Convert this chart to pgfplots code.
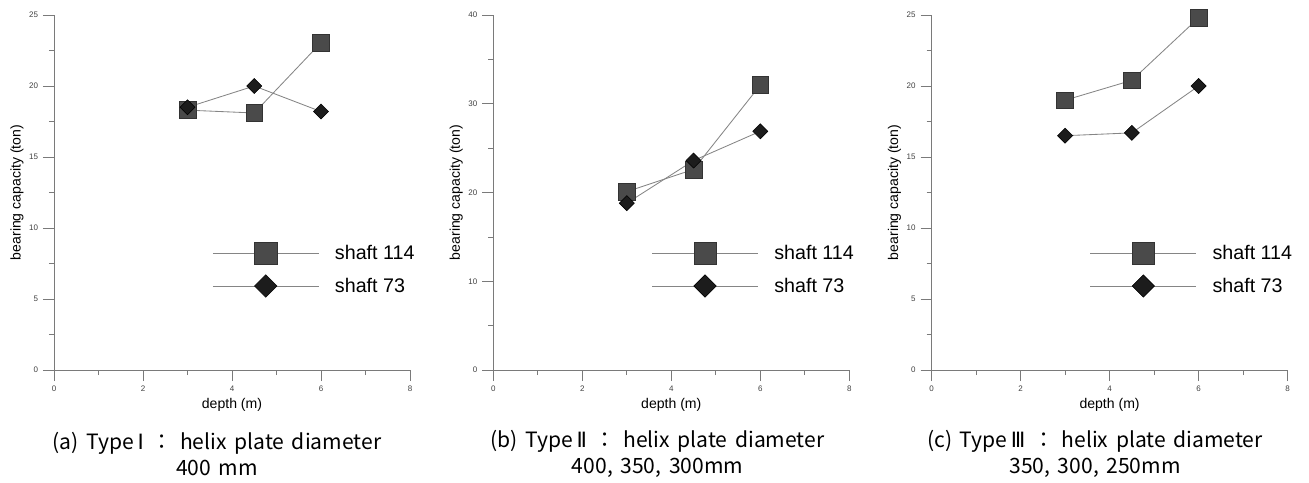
\documentclass[border=0pt]{standalone}
\usepackage{fontspec}
\setmainfont{Liberation Sans}
\newfontfamily\kr{Noto Sans CJK KR}
\newfontfamily\dv{DejaVu Sans}
\usepackage{pgfplots}
\pgfplotsset{compat=1.18}

\definecolor{axisgray}{HTML}{7A7A7A}
\definecolor{linegray}{HTML}{858585}
\definecolor{sqfill}{HTML}{4A4A4A}
\definecolor{dmfill}{HTML}{1C1C1C}

\newcommand\capfont{\kr\fontsize{15}{18.5}\selectfont\spaceskip=0.36em\relax}

\pgfplotsset{
  panel/.style={
    scale only axis, width=89mm, height=88.75mm,
    xmin=0, xmax=8, ymin=0,
    axis x line*=bottom, axis y line*=left,
    axis line style={axisgray, line width=0.5pt},
    xtick={0,2,...,8}, minor x tick num=1, minor y tick num=1,
    tick align=outside,
    major tick length=2.75mm, minor tick length=1.25mm,
    every tick/.style={axisgray, line width=0.5pt},
    tick label style={font=\fontsize{5.7}{6}\selectfont, text=black!75},
    /pgf/number format/assume math mode=true,
    xlabel={depth (m)}, ylabel={bearing capacity (ton)},
    label style={font=\fontsize{10}{12}\selectfont},
    xlabel style={at={(axis description cs:0.5,-0.0986)}, anchor=center},
    ylabel style={at={(axis description cs:-0.104,0.5)}, anchor=center},
    clip=false,
    legend style={at={(rel axis cs:0.444,0.283)}, anchor=west, draw=none, fill=none,
      inner sep=0pt, font=\fontsize{14}{17}\selectfont, row sep=2.65mm, column sep=3.25mm,
      cells={inner ysep=0pt, inner xsep=0pt}},
    legend cell align=left,
    legend image code/.code={
      \draw[#1, mark=none] (0mm,0mm) -- (26.5mm,0mm);
      \draw[#1] plot coordinates {(13.25mm,0mm)};
    },
  },
  s114/.style={linegray, line width=0.6pt, mark=square*, mark size=2.1mm,
    mark options={draw=black!80, fill=sqfill, line width=0.4pt},
    legend image post style={mark size=2.79mm}},
  s73/.style={linegray, line width=0.6pt, mark=square*, mark size=1.33mm,
    mark options={rotate=45, draw=black, fill=dmfill, line width=0.4pt},
    legend image post style={mark size=1.98mm}},
}

\begin{document}
\begin{tikzpicture}
\path (0,0) rectangle (327.25mm,-120.5mm);

% (a) Type I
\begin{axis}[panel, at={(13.5mm,-92.5mm)}, anchor=south west,
  ymax=25, ytick={0,5,...,25}]
\addplot[s114] coordinates {(3,18.3) (4.5,18.1) (6,23.05)};
\addlegendentry{shaft 114}
\addplot[s73] coordinates {(3,18.5) (4.5,20.0) (6,18.2)};
\addlegendentry{shaft 73}
\end{axis}

% (b) Type II
\begin{axis}[panel, at={(123.33mm,-92.5mm)}, anchor=south west,
  ymax=40, ytick={0,10,...,40}]
\addplot[s114] coordinates {(3,20.1) (4.5,22.6) (6,32.1)};
\addlegendentry{shaft 114}
\addplot[s73] coordinates {(3,18.8) (4.5,23.6) (6,26.9)};
\addlegendentry{shaft 73}
\end{axis}

% (c) Type III
\begin{axis}[panel, at={(232.9mm,-92.5mm)}, anchor=south west,
  ymax=25, ytick={0,5,...,25}]
\addplot[s114] coordinates {(3,19.0) (4.5,20.4) (6,24.8)};
\addlegendentry{shaft 114}
\addplot[s73] coordinates {(3,16.5) (4.5,16.7) (6,20.0)};
\addlegendentry{shaft 73}
\end{axis}

\tikzset{captxt/.style={font=\capfont, align=center}}
\node[captxt] at (54.25mm,-113.5mm) {(a) Type\,{\dv Ⅰ} ： helix plate diameter\\400 mm};
\node[captxt] at (164.4mm,-113.5mm) {(b) Type\,{\dv Ⅱ} ： helix plate diameter\\400, 350, 300mm};
\node[captxt] at (273.75mm,-113.5mm) {(c) Type\,{\dv Ⅲ} ： helix plate diameter\\350, 300, 250mm};
\end{tikzpicture}
\end{document}
